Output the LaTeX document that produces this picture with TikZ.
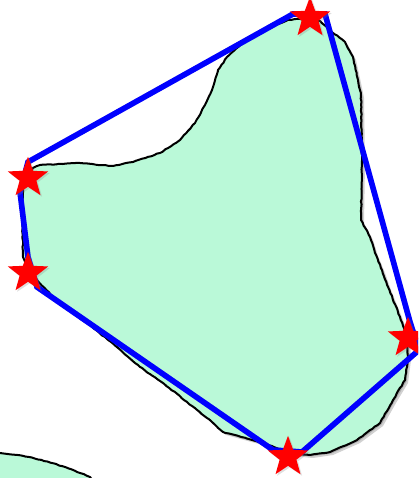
\documentclass[tikz,border=0pt]{standalone}
\usetikzlibrary{shapes.geometric,decorations.pathmorphing,shadows}
\definecolor{blobgreen}{RGB}{186,249,216}
\newcommand{\blobpoints}{
  (300,19) (320,21) (332,32) (345,42) (353,57) (358,80) (361,95) (362,160) (361,220)
  (370,237) (375,253) (382,270) (388,287) (400,317) (407,337) (408,357) (405,380)
  (393,400) (380,423) (357,440) (330,452) (310,455) (290,453) (263,443) (223,432)
  (207,418) (163,383) (140,367) (107,339) (87,323) (60,304) (37,280) (28,267)
  (23,257) (22,207) (23,187) (33,168) (40,165) (80,163) (113,166) (133,162)
  (160,153) (180,140) (195,123) (205,105) (212,90) (218,70) (227,57) (240,45)
  (260,33) (275,25) (288,20)}
\begin{document}
\begin{tikzpicture}[
  x=0.25pt, y=-0.25pt,
  outline/.style={draw=black, line width=0.5pt, line join=round, line cap=round, decorate,
    decoration={random steps, segment length=0.8pt, amplitude=0.1pt}},
  blobshade/.style={fill=black, opacity=0.18},
  hull/.style={draw=blue, line width=1.4pt, line join=miter},
  hullshade/.style={draw=black, opacity=0.12, line width=1.4pt, line join=miter},
  pin/.style={star, star points=5, star point ratio=2.4, minimum size=10.6pt, inner sep=0pt,
    fill=red, drop shadow={opacity=0.25, shadow xshift=0.4pt, shadow yshift=-0.4pt}},
]
\useasboundingbox (0,0) rectangle (418,478);
\clip (0,0) rectangle (418,478);
\pgfmathsetseed{11}
% --- neighbouring blob (bottom left) ---
\fill[blobgreen] (-5,452) -- (0,453) .. controls (30,456) and (55,462) .. (90,477)
  -- (100,490) -- (-5,490) -- cycle;
\draw[outline] (-5,452) -- (0,453) .. controls (30,456) and (55,462) .. (90,477) -- (95,484);
% --- main blob ---
\fill[blobshade, shift={(3,3)}] plot coordinates {\blobpoints} -- cycle;
\fill[blobshade, shift={(1.5,1.5)}] plot coordinates {\blobpoints} -- cycle;
\fill[blobgreen] plot coordinates {\blobpoints} -- cycle;
\draw[outline] (300,19) -- (320,21) -- (332,32) -- (345,42) -- (353,57) -- (358,80) -- (361,95) -- (362,160) -- (361,220);
\draw[outline] (361,220) -- (370,237) -- (375,253) -- (382,270) -- (388,287) -- (400,317) -- (407,337) -- (408,357) -- (405,380);
\draw[outline] (405,380) -- (393,400) -- (380,423) -- (357,440) -- (330,452) -- (310,455) -- (290,453) -- (263,443) -- (223,432);
\draw[outline] (223,432) -- (207,418) -- (163,383) -- (140,367) -- (107,339) -- (87,323) -- (60,304) -- (37,280) -- (28,267);
\draw[outline] (28,267) -- (23,257) -- (22,207) -- (23,187) -- (33,168) -- (40,165) -- (80,163) -- (113,166) -- (133,162);
\draw[outline] (133,162) -- (160,153) -- (180,140) -- (195,123) -- (205,105) -- (212,90) -- (218,70);
\draw[outline] (218,70) -- (227,57) -- (240,45) -- (260,33) -- (275,25) -- (288,20) -- (300,19);
% --- hull vertices ---
\coordinate (ha) at (293,14);
\coordinate (hb) at (325,14);
\coordinate (hc) at (410,322);
\coordinate (hd) at (419,350);
\coordinate (he) at (302,452);
\coordinate (hf) at (273,450);
\coordinate (hg) at (37,287);
\coordinate (hh) at (28,257);
\coordinate (hi) at (20,192);
\coordinate (hj) at (28,162);
\draw[hullshade, shift={(2,2)}] (ha) -- (hb) -- (hc) -- (hd) -- (he) -- (hf) -- (hg) -- (hh) -- (hi) -- (hj) -- cycle;
\draw[hull] (ha) -- (hb) -- (hc) -- (hd) -- (he) -- (hf) -- (hg) -- (hh) -- (hi) -- (hj) -- cycle;
% --- extreme points ---
\node[pin] (top)   at (310,18)  {};
\node[pin] (left1) at (28,178)  {};
\node[pin] (left2) at (28,273)  {};
\node[pin] (bot)   at (288,457) {};
\node[pin] (right) at (408,338) {};
\end{tikzpicture}
\end{document}
